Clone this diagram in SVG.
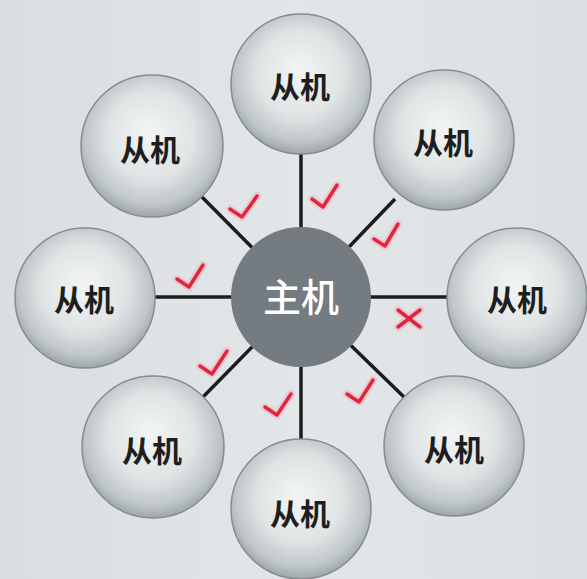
<svg xmlns="http://www.w3.org/2000/svg" width="587" height="579" viewBox="0 0 587 579">
  <defs>
    <linearGradient id="bg" x1="0" y1="0" x2="1" y2="0">
      <stop offset="0" stop-color="#d9dee0"/>
      <stop offset="0.5" stop-color="#e2e6e8"/>
      <stop offset="1" stop-color="#dce0e2"/>
    </linearGradient>
    <radialGradient id="sphere" cx="0.5" cy="0.45" r="0.55" fx="0.48" fy="0.4">
      <stop offset="0" stop-color="#f3f5f5"/>
      <stop offset="0.55" stop-color="#e0e4e5"/>
      <stop offset="0.85" stop-color="#c0c7c9"/>
      <stop offset="1" stop-color="#9ea6a9"/>
    </radialGradient>
    <style>
      .sat { fill: url(#sphere); stroke: #858d90; stroke-width: 1.5; }
      .hub { fill: #747b81; }
      .lbl { font-family: "Noto Sans CJK SC", "Noto Sans", sans-serif; font-size: 30px; font-weight: 700; fill: #1e1e1e; text-anchor: middle; }
      .hublbl { font-family: "Noto Sans CJK SC", "Noto Sans", sans-serif; font-size: 38px; font-weight: 500; fill: #ffffff; text-anchor: middle; }
      .conn { stroke: #1c1c1c; stroke-width: 3.5; fill: none; }
      .glow { stroke: #f2b3c0; stroke-width: 8; opacity: 0.55; fill: none; stroke-linecap: round; stroke-linejoin: round; }
      .mark { stroke: #e0263f; stroke-width: 3.5; fill: none; stroke-linecap: round; stroke-linejoin: round; }
    </style>
  </defs>
  <rect width="587" height="579" fill="url(#bg)"/>

  <g id="connectors">
    <line class="conn" x1="301" y1="297" x2="301" y2="154"/>
    <line class="conn" x1="301" y1="297" x2="202" y2="197"/>
    <line class="conn" x1="301" y1="297" x2="395" y2="199"/>
    <line class="conn" x1="301" y1="297" x2="155" y2="297"/>
    <line class="conn" x1="301" y1="297" x2="447" y2="297"/>
    <line class="conn" x1="301" y1="297" x2="203" y2="397"/>
    <line class="conn" x1="301" y1="297" x2="301" y2="440"/>
    <line class="conn" x1="301" y1="297" x2="404" y2="397"/>
  </g>

  <g id="marks">
    <path class="glow" d="M230,209 L242,217 L257,196"/>
    <path class="mark" d="M230,209 L242,217 L257,196"/>
    <path class="glow" d="M312,199 L323,207 L337,185"/>
    <path class="mark" d="M312,199 L323,207 L337,185"/>
    <path class="glow" d="M374,239 L385,246 L398,224"/>
    <path class="mark" d="M374,239 L385,246 L398,224"/>
    <path class="glow" d="M177,279 L189,287 L203,265"/>
    <path class="mark" d="M177,279 L189,287 L203,265"/>
    <path class="glow" d="M200,366 L212,374 L227,351"/>
    <path class="mark" d="M200,366 L212,374 L227,351"/>
    <path class="glow" d="M265,407 L277,415 L291,394"/>
    <path class="mark" d="M265,407 L277,415 L291,394"/>
    <path class="glow" d="M347,394 L359,402 L373,380"/>
    <path class="mark" d="M347,394 L359,402 L373,380"/>
    <path class="glow" d="M398,310 L420,327 M420,310 L398,327"/>
    <path class="mark" d="M398,310 L420,327 M420,310 L398,327"/>
  </g>

  <g id="hub">
    <circle class="hub" cx="301" cy="297" r="70"/>
    <text class="hublbl" x="301" y="311">主机</text>
  </g>
  <g id="slave-top">
    <circle class="sat" cx="301" cy="84" r="70"/>
    <text class="lbl" x="300" y="98">从机</text>
  </g>
  <g id="slave-top-left">
    <circle class="sat" cx="152" cy="146" r="71"/>
    <text class="lbl" x="150" y="161">从机</text>
  </g>
  <g id="slave-top-right">
    <circle class="sat" cx="444" cy="140" r="70"/>
    <text class="lbl" x="443" y="154">从机</text>
  </g>
  <g id="slave-left">
    <circle class="sat" cx="85" cy="298" r="70"/>
    <text class="lbl" x="84" y="311">从机</text>
  </g>
  <g id="slave-right">
    <circle class="sat" cx="517" cy="298" r="70"/>
    <text class="lbl" x="517" y="311">从机</text>
  </g>
  <g id="slave-bottom-left">
    <circle class="sat" cx="153" cy="447" r="71"/>
    <text class="lbl" x="152" y="462">从机</text>
  </g>
  <g id="slave-bottom">
    <circle class="sat" cx="301" cy="509" r="70"/>
    <text class="lbl" x="300" y="525">从机</text>
  </g>
  <g id="slave-bottom-right">
    <circle class="sat" cx="454" cy="446" r="70"/>
    <text class="lbl" x="454" y="461">从机</text>
  </g>
</svg>
